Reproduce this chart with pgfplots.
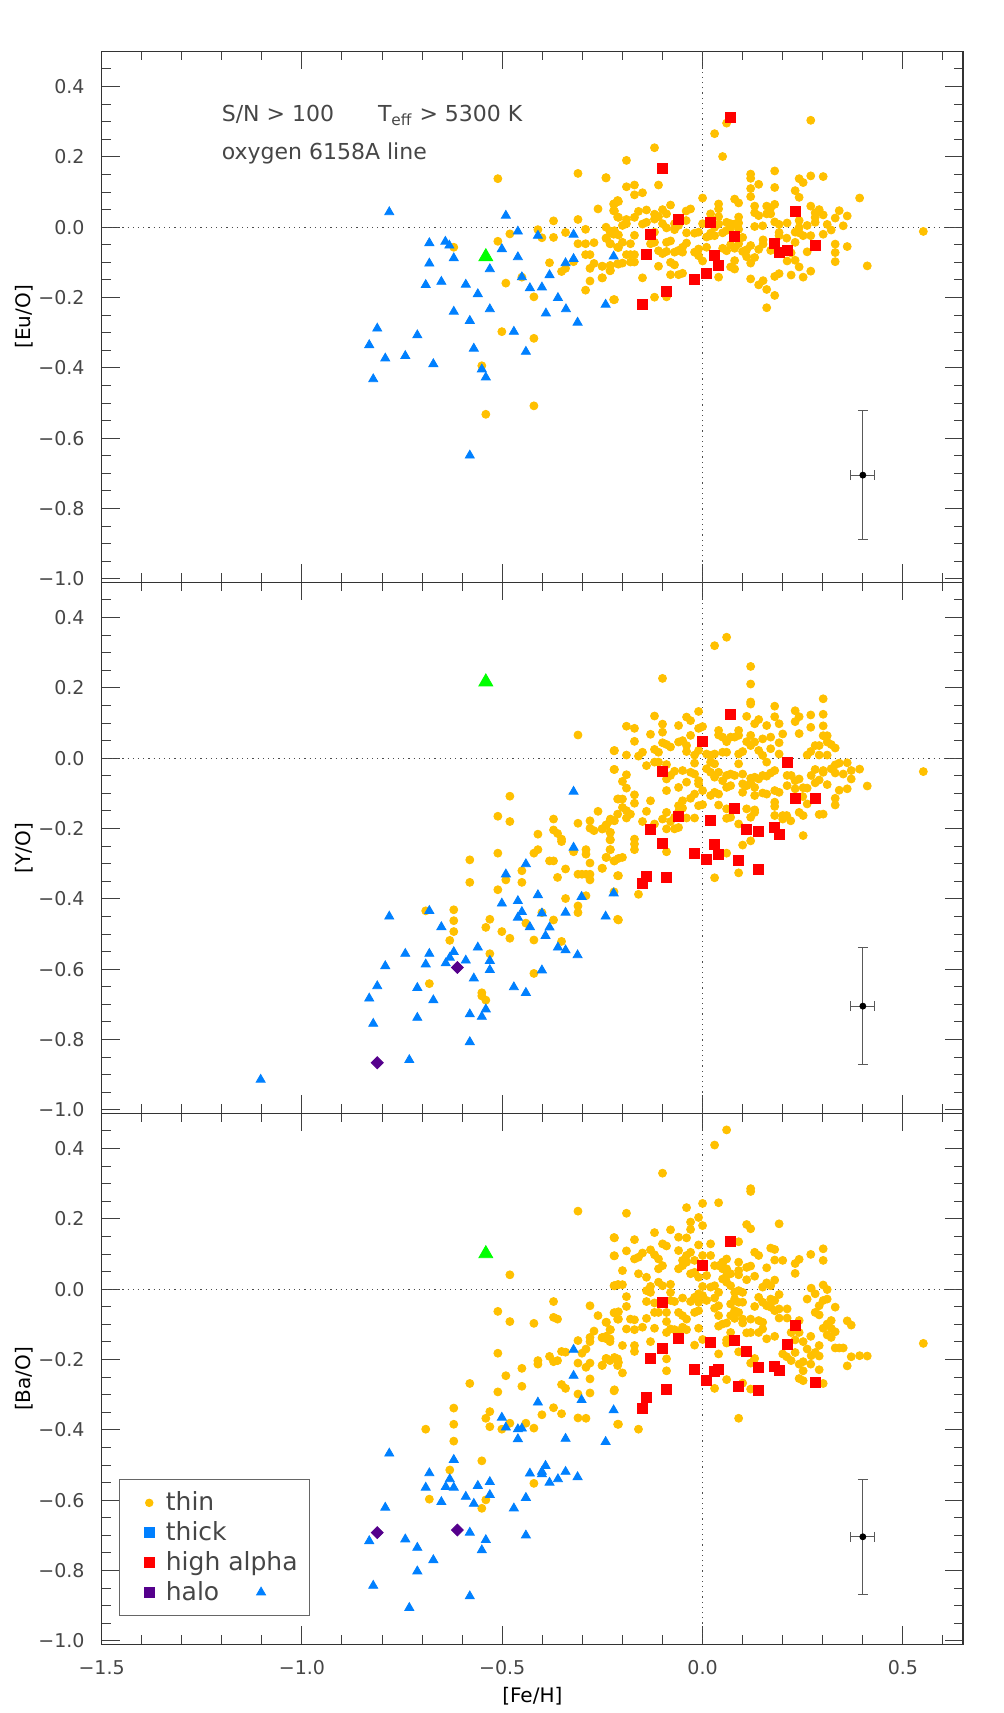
\documentclass[border=0pt]{standalone}
\usepackage{fontspec}
\setmainfont{DejaVu Sans}
\usepackage{pgfplots}
\pgfplotsset{compat=1.18}
\definecolor{thinc}{RGB}{255,192,0}
\definecolor{thickc}{RGB}{0,128,255}
\definecolor{hac}{RGB}{255,0,0}
\definecolor{haloc}{RGB}{85,0,140}
\definecolor{grc}{RGB}{0,255,0}
\definecolor{txt}{RGB}{70,70,70}
\pgfplotsset{
  panel/.style={
    scale only axis, width=430.7pt, height=265.5pt,
    xmin=-1.5, xmax=0.65, ymin=-1.01, ymax=0.5,
    xtick={-1.5,-1,-0.5,0,0.5},
    minor xtick={-1.4,-1.3,-1.2,-1.1,-0.9,-0.8,-0.7,-0.6,-0.4,-0.3,-0.2,-0.1,0.1,0.2,0.3,0.4,0.6},
    ytick={-1,-0.8,-0.6,-0.4,-0.2,0,0.2,0.4},
    minor ytick={-0.95,-0.9,-0.85,-0.75,-0.7,-0.65,-0.55,-0.5,-0.45,-0.35,-0.3,-0.25,-0.15,-0.1,-0.05,0.05,0.1,0.15,0.25,0.3,0.35,0.45},
    yticklabels={−1.0,−0.8,−0.6,−0.4,−0.2,0.0,0.2,0.4},
    xticklabels={},
    tick align=inside, tick pos=both,
    major tick length=9pt, minor tick length=4.5pt,
    every tick/.style={black!75, line width=0.5pt},
    axis line style={black!80, line width=0.6pt},
    tick label style={font=\fontsize{9.5}{11}\selectfont, text=txt},
    yticklabel shift=5pt,
    label style={font=\fontsize{11}{13}\selectfont, text=txt},
    every axis y label/.style={at={(axis description cs:-0.09,0.5)}, rotate=90, anchor=center},
    clip=false,
  },
  thin/.style={only marks, mark=*, mark size=2pt, color=thinc},
  thick/.style={only marks, mark=triangle*, mark size=2.6pt, color=thickc},
  ha/.style={only marks, mark=square*, mark size=2.5pt, color=hac},
  halo/.style={only marks, mark=square*, mark size=2.1pt, color=haloc, mark options={rotate=45}},
  grn/.style={only marks, mark=triangle*, mark size=4pt, color=grc},
  zl/.style={dotted, black!70, line width=0.6pt},
  eb/.style={only marks, mark=*, mark size=1.5pt, color=black,
    error bars/x dir=both, error bars/x explicit, error bars/y dir=both, error bars/y explicit,
    error bars/error bar style={black!65, line width=0.6pt},
    error bars/error mark options={rotate=90, mark size=2.5pt, black!65, line width=0.6pt}},
}
\begin{document}
\begin{tikzpicture}
\useasboundingbox (0,0) rectangle (501.5pt,856.5pt);
% ================= TOP =================
\begin{axis}[panel, at={(50.8pt,565.3pt)}, anchor=south west, ylabel={[Eu/O]}]
\addplot[zl] coordinates {(-1.5,0) (0.65,0)};
\addplot[zl] coordinates {(0,-1.01) (0,0.5)};
\addplot[thin] coordinates {
(-0.511,0.138) (-0.311,0.153) (-0.241,0.141) (-0.261,0.052) (-0.311,0.022) (-0.372,0.018) (-0.411,-0.007) (-0.401,-0.030) (-0.372,-0.029) (-0.342,-0.015) (-0.481,-0.019) (-0.511,-0.040) (-0.621,-0.057) (-0.292,-0.006) (-0.311,-0.047) (-0.292,-0.047) (-0.271,-0.044) (-0.241,0.000) (-0.222,0.066) (-0.212,0.076) (-0.222,0.047) (-0.212,0.029) (-0.231,-0.011) (-0.222,-0.020) (-0.241,-0.031) (-0.231,-0.047) (-0.212,-0.057) (-0.292,-0.078) (-0.281,-0.078) (-0.322,-0.098) (-0.382,-0.101) (-0.342,-0.117) (-0.352,-0.126) (-0.271,-0.103) (-0.281,-0.117) (-0.251,-0.111) (-0.231,-0.109) (-0.231,-0.124) (-0.212,-0.104) (-0.281,-0.153) (-0.251,-0.144) (-0.292,-0.179) (-0.222,-0.206) (-0.451,-0.142) (-0.491,-0.159) (-0.421,-0.198) (-0.501,-0.297) (-0.421,-0.316) (-0.551,-0.394) (-0.421,-0.508) (-0.541,-0.532)
(0.060,0.296) (0.030,0.266) (0.050,0.201) (0.270,0.304) (-0.120,0.226) (-0.190,0.190) (-0.241,0.140) (-0.110,0.120) (-0.190,0.115) (-0.170,0.120) (-0.170,0.092) (-0.150,0.098) (-0.220,0.067) (-0.210,0.073) (-0.220,0.046) (-0.210,0.028) (-0.190,0.022) (-0.170,0.028) (-0.160,0.045) (-0.140,0.049) (-0.120,0.037) (-0.120,0.023) (-0.100,0.050) (-0.090,0.038) (-0.080,0.063) (-0.110,0.030) (-0.041,0.046) (-0.030,0.052) (0.000,0.083) (0.040,0.066) (0.040,0.052) (0.020,0.038) (0.040,0.030) (0.080,0.080) (0.090,0.069) (0.120,0.151) (0.120,0.139) (0.140,0.122) (0.120,0.110) (0.120,0.087) (0.180,0.160) (0.180,0.113) (0.241,0.138) (0.251,0.127) (0.231,0.104) (0.241,0.085) (0.270,0.146) (0.301,0.144) (0.392,0.083) (0.130,0.060) (0.160,0.060) (0.170,0.055) (0.180,0.065) (0.160,0.038) (0.170,0.038) (0.130,0.041) (0.140,0.033) (0.090,0.029) (0.270,0.060) (0.291,0.050) (0.281,0.041) (0.301,0.035) (0.281,0.028) (0.281,0.014) (0.341,0.047) (0.331,0.026) (0.361,0.032) (0.311,0.008) (0.351,0.004) (0.321,-0.008) (0.301,-0.020) (0.270,-0.024) (0.241,0.019) (0.241,-0.001) (0.261,0.005) (0.241,-0.016) (0.251,-0.024) (0.231,-0.014) (0.211,0.012) (0.180,0.015) (0.191,0.008) (0.150,0.004) (0.130,0.002) (0.191,-0.015) (0.191,-0.024) (0.210,-0.031) (0.231,-0.043) (0.151,-0.036) (0.151,-0.048) (0.120,-0.052) (0.140,-0.063) (0.170,-0.066) (0.110,-0.064) (0.100,-0.069) (0.110,-0.084) (0.130,-0.086) (0.120,-0.102) (0.211,-0.096) (0.231,-0.094) (0.221,-0.073) (0.241,-0.113) (0.261,-0.070) (0.331,-0.048) (0.331,-0.072) (0.361,-0.055) (0.331,-0.098) (0.411,-0.110) (0.551,-0.012) (0.270,-0.125) (0.251,-0.142) (0.221,-0.136) (0.191,-0.132) (0.180,-0.140) (0.120,-0.147) (0.151,-0.152) (0.140,-0.164) (0.160,-0.177) (0.180,-0.194) (0.160,-0.229) (0.060,0.014) (0.070,0.010) (0.080,0.009) (0.090,0.012) (0.040,0.009) (0.030,0.000) (0.020,-0.017) (0.030,-0.024) (0.010,-0.028) (0.050,-0.016) (0.060,-0.009) (0.070,-0.001) (0.090,-0.006) (0.100,-0.029) (0.090,-0.047) (0.080,-0.060) (0.070,-0.050) (0.060,-0.067) (0.050,-0.060) (0.080,-0.095) (0.070,-0.113) (0.080,-0.119) (0.040,-0.142) (-0.010,-0.062) (-0.020,-0.071) (-0.010,-0.081) (0.000,0.010) (-0.020,-0.017) (-0.010,-0.014) (-0.040,-0.016) (-0.040,-0.045) (-0.050,-0.057) (-0.050,-0.071) (-0.060,-0.066) (-0.070,-0.071) (-0.080,-0.039) (-0.090,-0.043) (-0.070,-0.007) (-0.090,-0.002) (-0.100,0.010) (-0.120,-0.014) (-0.120,-0.043) (-0.130,-0.047) (-0.110,-0.067) (-0.100,-0.075) (-0.090,-0.069) (-0.080,-0.100) (-0.070,-0.107) (-0.060,-0.135) (-0.080,-0.135) (-0.050,-0.131) (-0.110,-0.111) (-0.150,-0.144) (-0.120,-0.199) (-0.090,-0.198) (-0.220,-0.206) (-0.170,-0.023) (-0.180,-0.047) (-0.170,-0.078) (-0.180,-0.078) (-0.190,-0.078) (-0.170,-0.099) (-0.180,-0.099) (-0.200,-0.043) (-0.210,-0.022) (-0.220,-0.010) (-0.230,-0.015) (-0.240,-0.032) (-0.230,-0.047) (-0.210,-0.058) (-0.200,-0.102) (-0.210,-0.105) (-0.230,-0.109) (-0.250,-0.111) (-0.250,-0.144) (-0.230,-0.123) (-0.150,0.009) (-0.140,0.014) (-0.190,0.010) (-0.200,0.005) (-0.060,0.005) (-0.041,0.019) (-0.070,0.010) (0.000,-0.096) (0.010,-0.057) (0.020,-0.024)
};
\addplot[thick] coordinates {
(-0.782,0.043) (-0.682,-0.045) (-0.642,-0.041) (-0.632,-0.052) (-0.621,-0.088) (-0.682,-0.103) (-0.691,-0.164) (-0.652,-0.155) (-0.591,-0.163) (-0.561,-0.190) (-0.531,-0.119) (-0.531,-0.233) (-0.621,-0.240) (-0.581,-0.266) (-0.491,0.033) (-0.461,-0.012) (-0.411,-0.024) (-0.501,-0.062) (-0.461,-0.085) (-0.451,-0.142) (-0.431,-0.173) (-0.401,-0.171) (-0.382,-0.136) (-0.342,-0.102) (-0.322,-0.090) (-0.322,-0.021) (-0.361,-0.201) (-0.341,-0.233) (-0.391,-0.245) (-0.312,-0.271) (-0.242,-0.220) (-0.222,-0.083) (-0.471,-0.297) (-0.441,-0.354) (-0.571,-0.345) (-0.551,-0.404) (-0.541,-0.427) (-0.581,-0.649) (-0.812,-0.288) (-0.832,-0.335) (-0.792,-0.373) (-0.742,-0.366) (-0.712,-0.307) (-0.672,-0.389) (-0.822,-0.432)
};
\addplot[ha] coordinates {
(0.070,0.311) (-0.100,0.167) (-0.060,0.023) (-0.130,-0.020) (-0.140,-0.078) (0.020,0.013) (0.079,-0.027) (0.030,-0.079) (0.040,-0.109) (0.010,-0.130) (-0.020,-0.147) (-0.090,-0.182) (-0.150,-0.219) (0.180,-0.046) (0.191,-0.071) (0.211,-0.066) (0.231,0.046) (0.281,-0.053)
};
\addplot[grn] coordinates {(-0.541,-0.084)};
\addplot[eb] coordinates {(0.4,-0.705) +- (0.03,0.183)};
\node[anchor=base west, inner sep=0pt, font=\fontsize{11}{13}\selectfont, text=txt] at (axis cs:-1.201,0.300) {S/N > 100\hspace{22pt}T\textsubscript{eff} > 5300 K};
\node[anchor=base west, inner sep=0pt, font=\fontsize{11}{13}\selectfont, text=txt] at (axis cs:-1.201,0.193) {oxygen 6158A line};
\end{axis}
% ================= MIDDLE =================
\begin{axis}[panel, at={(50.8pt,299.8pt)}, anchor=south west, ylabel={[Y/O]}]
\addplot[zl] coordinates {(-1.5,0) (0.65,0)};
\addplot[zl] coordinates {(0,-1.01) (0,0.5)};
\addplot[thin] coordinates {
(-0.311,0.066) (-0.221,0.021) (-0.221,-0.032) (-0.212,-0.116) (-0.212,-0.159) (-0.261,-0.151) (-0.281,-0.178) (-0.281,-0.199) (-0.271,-0.206) (-0.251,-0.201) (-0.241,-0.190) (-0.231,-0.178) (-0.231,-0.211) (-0.231,-0.232) (-0.231,-0.260) (-0.241,-0.282) (-0.221,-0.292) (-0.251,-0.313) (-0.212,-0.334) (-0.221,-0.380) (-0.212,-0.458) (-0.311,-0.185) (-0.372,-0.173) (-0.372,-0.204) (-0.362,-0.214) (-0.352,-0.230) (-0.352,-0.237) (-0.411,-0.216) (-0.411,-0.260) (-0.421,-0.270) (-0.382,-0.292) (-0.372,-0.292) (-0.342,-0.315) (-0.362,-0.339) (-0.291,-0.260) (-0.291,-0.273) (-0.322,-0.266) (-0.281,-0.298) (-0.311,-0.330) (-0.301,-0.330) (-0.291,-0.330) (-0.281,-0.330) (-0.281,-0.346) (-0.291,-0.391) (-0.342,-0.399) (-0.311,-0.420) (-0.311,-0.439) (-0.372,-0.460) (-0.481,-0.108) (-0.511,-0.165) (-0.481,-0.180) (-0.511,-0.270) (-0.581,-0.289) (-0.581,-0.353) (-0.451,-0.320) (-0.491,-0.346) (-0.451,-0.353) (-0.511,-0.374) (-0.691,-0.434) (-0.621,-0.431) (-0.621,-0.462) (-0.621,-0.493) (-0.631,-0.518) (-0.531,-0.458) (-0.541,-0.481) (-0.501,-0.493) (-0.481,-0.512) (-0.441,-0.469) (-0.421,-0.517) (-0.401,-0.439) (-0.352,-0.521) (-0.531,-0.556) (-0.682,-0.641) (-0.551,-0.667) (-0.551,-0.676) (-0.541,-0.688) (-0.421,-0.612)
(0.060,0.344) (0.030,0.320) (-0.100,0.227) (0.120,0.261) (0.120,0.211) (0.120,0.160) (0.120,0.154) (0.301,0.169) (0.180,0.148) (0.231,0.135) (0.241,0.118) (0.231,0.104) (0.270,0.123) (0.301,0.125) (0.270,0.088) (0.301,0.092) (0.241,0.070) (0.301,0.064) (0.311,0.064) (0.311,0.046) (0.321,0.039) (0.331,0.029) (0.281,0.036) (0.291,0.036) (0.270,0.019) (0.261,0.009) (0.291,0.009) (0.311,0.009) (0.361,-0.013) (0.331,-0.019) (0.341,-0.014) (0.321,-0.030) (0.301,-0.035) (0.281,-0.032) (0.301,-0.040) (0.331,-0.042) (0.351,-0.045) (0.371,-0.035) (0.392,-0.031) (0.371,-0.059) (0.411,-0.079) (0.551,-0.038) (0.361,-0.087) (0.341,-0.091) (0.311,-0.075) (0.291,-0.062) (0.281,-0.070) (0.271,-0.049) (0.261,-0.085) (0.251,-0.084) (0.241,-0.059) (0.231,-0.064) (0.231,-0.087) (0.221,-0.049) (0.211,-0.049) (0.211,-0.078) (0.191,-0.097) (0.180,-0.092) (0.180,-0.035) (0.170,-0.042) (0.160,-0.051) (0.150,-0.049) (0.140,-0.059) (0.130,-0.054) (0.120,-0.057) (0.120,-0.070) (0.110,-0.078) (0.100,-0.073) (0.130,-0.083) (0.150,-0.099) (0.160,-0.102) (0.130,-0.106) (0.331,-0.114) (0.331,-0.133) (0.250,-0.109) (0.261,-0.130) (0.241,-0.154) (0.251,-0.163) (0.291,-0.160) (0.301,-0.159) (0.200,-0.163) (0.210,-0.163) (0.220,-0.178) (0.200,-0.173) (0.180,-0.163) (0.251,-0.220) (0.180,-0.125) (0.180,-0.137) (0.130,-0.147) (0.130,-0.154) (0.110,-0.144) (0.120,-0.168) (0.090,-0.187) (0.060,-0.144) (0.060,-0.171) (0.070,-0.168) (0.100,-0.247) (0.120,-0.235) (0.060,-0.270) (0.090,-0.326) (0.030,-0.340) (0.040,-0.133) (0.000,-0.132) (-0.010,-0.135) (-0.020,-0.170) (-0.040,-0.170) (-0.030,-0.114) (-0.050,-0.121) (-0.050,-0.142) (-0.060,-0.135) (-0.020,-0.102) (0.000,-0.092) (0.020,-0.106) (0.030,-0.097) (0.040,-0.102) (-0.060,-0.152) (-0.070,-0.168) (-0.070,-0.201) (-0.060,-0.197) (-0.090,-0.201) (-0.080,-0.180) (-0.100,-0.173) (-0.090,-0.154) (-0.120,-0.187) (-0.150,-0.180) (-0.090,-0.266) (-0.130,-0.121) (-0.140,-0.151) (-0.170,-0.128) (-0.170,-0.104) (-0.190,-0.085) (-0.200,-0.066) (-0.190,-0.047) (-0.220,-0.032) (-0.220,0.022) (-0.190,0.009) (-0.170,0.048) (-0.190,0.091) (-0.170,0.085) (-0.150,0.017) (-0.160,0.006) (-0.130,0.068) (-0.120,0.120) (-0.100,0.097) (-0.100,0.074) (-0.100,0.044) (-0.090,0.039) (-0.080,0.032) (-0.110,0.017) (-0.120,0.025) (-0.120,-0.011) (-0.140,-0.021) (-0.110,-0.011) (-0.090,-0.018) (-0.090,-0.059) (-0.080,-0.049) (-0.090,-0.092) (-0.070,-0.037) (-0.050,-0.035) (-0.030,-0.040) (-0.020,-0.045) (-0.010,-0.064) (-0.010,-0.073) (-0.040,-0.068) (-0.060,-0.083) (-0.060,0.046) (-0.050,0.050) (-0.060,0.093) (-0.040,0.117) (-0.030,0.107) (-0.030,0.065) (-0.010,0.133) (-0.010,0.085) (0.000,0.090) (-0.040,0.036) (-0.040,0.019) (-0.020,0.009) (-0.010,0.022) (-0.020,-0.014) (0.010,0.012) (0.020,0.008) (0.030,0.012) (0.020,-0.011) (0.030,-0.016) (0.010,-0.030) (0.020,-0.040) (0.040,-0.040) (0.030,-0.054) (0.050,-0.064) (0.060,-0.049) (0.070,-0.045) (0.080,-0.049) (0.100,-0.045) (0.060,-0.083) (0.070,-0.078) (0.100,-0.097) (0.040,0.079) (0.040,0.066) (0.050,0.060) (0.060,0.047) (0.070,0.060) (0.080,0.060) (0.090,0.079) (0.090,0.065) (0.110,0.119) (0.130,0.098) (0.140,0.110) (0.160,0.093) (0.180,0.118) (0.191,0.098) (0.200,0.069) (0.170,0.060) (0.150,0.055) (0.120,0.065) (0.110,0.047) (0.120,0.036) (0.130,0.046) (0.140,0.022) (0.170,0.027) (0.191,0.044) (0.191,0.012) (0.150,0.008) (0.160,-0.011) (0.100,0.019) (0.090,0.012) (0.090,-0.016) (0.060,0.017) (0.050,0.017)
(-0.250,-0.201) (-0.240,-0.190) (-0.230,-0.211) (-0.230,-0.232) (-0.230,-0.260) (-0.240,-0.282) (-0.250,-0.313) (-0.220,-0.292) (-0.210,-0.285) (-0.200,-0.282) (-0.210,-0.334) (-0.170,-0.230) (-0.170,-0.244) (-0.170,-0.260) (-0.190,-0.170) (-0.180,-0.159) (-0.210,-0.116) (-0.200,-0.116) (-0.220,-0.178) (-0.230,-0.173) (-0.160,-0.387) (-0.210,-0.460) (-0.200,-0.140) (-0.190,-0.149)
};
\addplot[thick] coordinates {
(-1.103,-0.914) (-0.782,-0.450) (-0.682,-0.434) (-0.652,-0.480) (-0.742,-0.556) (-0.682,-0.556) (-0.691,-0.586) (-0.792,-0.591) (-0.812,-0.648) (-0.832,-0.683) (-0.822,-0.755) (-0.712,-0.653) (-0.672,-0.688) (-0.712,-0.738) (-0.732,-0.858) (-0.621,-0.551) (-0.631,-0.567) (-0.641,-0.583) (-0.591,-0.575) (-0.561,-0.538) (-0.531,-0.576) (-0.531,-0.602) (-0.571,-0.626) (-0.581,-0.728) (-0.551,-0.735) (-0.541,-0.714) (-0.581,-0.807) (-0.471,-0.651) (-0.441,-0.667) (-0.401,-0.603) (-0.491,-0.330) (-0.441,-0.301) (-0.501,-0.413) (-0.461,-0.406) (-0.451,-0.437) (-0.461,-0.453) (-0.431,-0.480) (-0.411,-0.389) (-0.401,-0.441) (-0.382,-0.481) (-0.392,-0.505) (-0.361,-0.538) (-0.342,-0.546) (-0.312,-0.560) (-0.342,-0.439) (-0.302,-0.394) (-0.322,-0.095) (-0.322,-0.254) (-0.242,-0.450) (-0.222,-0.384)
};
\addplot[ha] coordinates {
(0.070,0.125) (0.000,0.049) (-0.100,-0.037) (0.211,-0.011) (0.231,-0.114) (0.281,-0.114) (0.080,-0.144) (-0.060,-0.165) (0.020,-0.178) (-0.130,-0.203) (-0.100,-0.241) (0.110,-0.201) (0.140,-0.208) (0.180,-0.198) (0.191,-0.216) (0.030,-0.246) (0.040,-0.273) (-0.020,-0.270) (0.010,-0.287) (0.090,-0.290) (0.140,-0.317) (-0.140,-0.336) (-0.150,-0.355) (-0.090,-0.338)
};
\addplot[halo] coordinates {(-0.612,-0.595) (-0.812,-0.866)};
\addplot[grn] coordinates {(-0.541,0.217)};
\addplot[eb] coordinates {(0.4,-0.705) +- (0.03,0.167)};
\end{axis}
% ================= BOTTOM =================
\begin{axis}[panel, at={(50.8pt,34.3pt)}, anchor=south west, ylabel={[Ba/O]}, xlabel={[Fe/H]},
  xticklabels={−1.5,−1.0,−0.5,0.0,0.5}, xticklabel shift=4.5pt,
  every axis x label/.style={at={(axis description cs:0.5,-0.097)}, anchor=center},
  legend image code/.code={\path[draw=none, fill=none] (0pt,0pt) -- (17pt,0pt); \draw[#1] plot coordinates {(10.7pt,0pt)};},
  legend style={at={(0.0205,0.311)}, anchor=north west, draw=black!60, line width=0.6pt, fill=none,
    font=\fontsize{12.5}{14}\selectfont, text=txt, row sep=0pt, inner xsep=4pt, inner ysep=4pt},
  legend cell align=left]
\addlegendimage{only marks, mark=*, mark size=1.8pt, thinc}
\addlegendentry{thin}
\addlegendimage{only marks, mark=square*, mark size=2.5pt, thickc}
\addlegendentry{thick}
\addlegendimage{only marks, mark=square*, mark size=2.5pt, hac}
\addlegendentry{high alpha}
\addlegendimage{only marks, mark=square*, mark size=2.5pt, haloc}
\addlegendentry{halo}
\addplot[forget plot, zl] coordinates {(-1.5,0) (0.65,0)};
\addplot[forget plot, zl] coordinates {(0,-1.01) (0,0.5)};
\addplot[forget plot, thin] coordinates {
(-0.311,0.222) (-0.221,0.147) (-0.221,0.095) (-0.221,0.010) (-0.212,0.013) (-0.481,0.041) (-0.511,-0.063) (-0.481,-0.092) (-0.421,-0.097) (-0.372,-0.035) (-0.372,-0.080) (-0.362,-0.085) (-0.281,-0.047) (-0.261,-0.075) (-0.241,-0.094) (-0.231,-0.115) (-0.221,-0.067) (-0.212,-0.085) (-0.271,-0.119) (-0.281,-0.137) (-0.281,-0.149) (-0.251,-0.138) (-0.241,-0.134) (-0.231,-0.141) (-0.231,-0.149) (-0.311,-0.146) (-0.291,-0.170) (-0.301,-0.182) (-0.352,-0.177) (-0.342,-0.179) (-0.382,-0.191) (-0.372,-0.206) (-0.362,-0.203) (-0.411,-0.203) (-0.411,-0.213) (-0.311,-0.210) (-0.281,-0.210) (-0.291,-0.222) (-0.241,-0.197) (-0.231,-0.203) (-0.212,-0.198) (-0.251,-0.217) (-0.212,-0.217) (-0.511,-0.182) (-0.451,-0.225) (-0.491,-0.246) (-0.451,-0.276) (-0.511,-0.292) (-0.581,-0.268) (-0.352,-0.271) (-0.342,-0.282) (-0.281,-0.255) (-0.311,-0.298) (-0.281,-0.295) (-0.221,-0.289) (-0.372,-0.337) (-0.352,-0.354) (-0.401,-0.357) (-0.311,-0.366) (-0.291,-0.367) (-0.212,-0.384) (-0.621,-0.338) (-0.621,-0.384) (-0.621,-0.432) (-0.691,-0.398) (-0.531,-0.348) (-0.541,-0.367) (-0.531,-0.391) (-0.501,-0.398) (-0.481,-0.381) (-0.441,-0.381) (-0.421,-0.395) (-0.551,-0.488) (-0.631,-0.514) (-0.682,-0.597) (-0.541,-0.599) (-0.551,-0.623) (-0.421,-0.552)
(0.060,0.453) (0.030,0.410) (-0.100,0.330) (0.120,0.286) (0.120,0.278) (0.040,0.246) (0.000,0.244) (-0.040,0.232) (-0.190,0.216) (-0.010,0.204) (-0.030,0.191) (0.000,0.181) (-0.030,0.170) (-0.080,0.169) (-0.120,0.161) (-0.060,0.148) (-0.040,0.146) (-0.220,0.146) (-0.170,0.141) (0.020,0.129) (-0.010,0.126) (-0.100,0.129) (-0.090,0.123) (0.090,0.135) (0.110,0.184) (0.120,0.172) (0.191,0.186) (0.301,0.115) (0.301,0.082) (0.270,0.099) (0.170,0.117) (0.180,0.113) (0.130,0.105) (0.140,0.096) (0.180,0.083) (0.200,0.082) (0.241,0.085) (0.231,0.073) (0.231,0.045) (0.160,0.061) (0.130,0.037) (0.110,0.062) (0.120,0.066) (0.090,0.053) (0.090,0.041) (0.110,0.027) (0.180,0.026) (0.160,0.018) (0.150,0.006) (0.170,0.010) (0.191,-0.015) (0.170,-0.028) (0.180,-0.032) (0.150,-0.037) (0.140,-0.023) (0.130,-0.049) (0.160,-0.047) (0.170,-0.051) (0.180,-0.061) (0.191,-0.056) (0.211,-0.056) (0.191,-0.082) (0.211,-0.082) (0.241,-0.089) (0.241,-0.123) (0.221,-0.123) (0.231,-0.144) (0.251,-0.149) (0.261,-0.170) (0.281,-0.180) (0.271,-0.189) (0.291,-0.160) (0.291,-0.190) (0.251,-0.206) (0.241,-0.213) (0.221,-0.203) (0.200,-0.184) (0.210,-0.192) (0.231,-0.180) (0.251,-0.232) (0.241,-0.254) (0.251,-0.260) (0.270,-0.213) (0.291,-0.229) (0.301,-0.268) (0.270,-0.134) (0.261,-0.028) (0.271,0.003) (0.281,-0.013) (0.291,-0.047) (0.281,-0.066) (0.291,-0.073) (0.301,0.012) (0.311,-0.001) (0.311,-0.028) (0.301,-0.032) (0.321,-0.089) (0.311,-0.099) (0.301,-0.111) (0.321,-0.111) (0.331,-0.121) (0.311,-0.130) (0.321,-0.137) (0.331,-0.051) (0.331,-0.167) (0.341,-0.167) (0.351,-0.167) (0.361,-0.090) (0.371,-0.102) (0.371,-0.192) (0.361,-0.218) (0.392,-0.189) (0.411,-0.190) (0.551,-0.154) (0.090,-0.367) (0.120,-0.284) (0.030,-0.282) (0.060,-0.257) (0.100,-0.267) (0.130,-0.197) (0.120,-0.210) (0.090,-0.178) (0.070,-0.123) (0.060,-0.144) (0.060,-0.153) (0.110,-0.124) (0.120,-0.123) (0.140,-0.123) (0.150,-0.113) (0.160,-0.141) (0.180,-0.134) (0.150,-0.094) (0.140,-0.089) (0.120,-0.085) (0.100,-0.085) (0.100,-0.096) (0.090,-0.066) (0.080,-0.083) (0.070,-0.075) (0.060,-0.096) (0.080,-0.061) (0.070,-0.042) (0.080,-0.028) (0.090,-0.037) (0.100,-0.037) (0.080,-0.009) (0.090,-0.004) (0.100,-0.009) (0.070,0.010) (0.060,0.020) (0.050,0.029) (0.060,0.039) (0.070,0.044) (0.050,0.058) (0.040,0.067) (0.060,0.058) (0.050,0.077) (0.030,0.010) (0.020,0.006) (0.040,-0.009) (0.030,-0.025) (0.040,-0.047) (0.030,-0.054) (0.040,-0.075) (0.040,-0.105) (0.050,-0.099) (0.040,-0.184) (0.000,0.008) (0.010,0.039) (-0.010,0.034) (-0.020,0.048) (-0.030,0.044) (0.000,-0.018) (-0.010,-0.013) (-0.020,-0.023) (-0.010,-0.037) (0.010,-0.032) (-0.020,-0.066) (-0.010,-0.061) (0.000,-0.143) (-0.020,-0.159) (-0.010,-0.111) (-0.040,-0.085) (-0.050,-0.025) (-0.030,-0.035) (-0.050,-0.108) (-0.040,-0.115) (-0.060,-0.123) (-0.070,-0.115) (-0.080,-0.113) (-0.090,-0.123) (-0.090,-0.092) (-0.060,-0.066) (-0.050,-0.075) (-0.070,-0.035) (-0.080,-0.032) (-0.090,-0.066) (-0.080,-0.009) (-0.080,0.014) (-0.100,0.010) (-0.110,0.020) (-0.130,0.008) (-0.140,-0.004) (-0.130,-0.009) (-0.120,-0.039) (-0.110,-0.066) (-0.120,-0.066) (-0.140,-0.083) (-0.150,-0.108) (-0.120,-0.111) (-0.090,-0.198) (-0.090,-0.232) (-0.130,-0.149) (-0.170,-0.160) (-0.170,-0.177) (-0.200,-0.160) (-0.220,-0.194) (-0.240,-0.197) (-0.250,-0.216) (-0.210,-0.208) (-0.200,-0.238) (-0.220,-0.286) (-0.210,-0.384) (-0.160,-0.398) (-0.230,-0.115) (-0.240,-0.094) (-0.220,-0.067) (-0.210,-0.064) (-0.180,-0.085) (-0.170,-0.087) (-0.190,-0.113) (-0.170,-0.115) (-0.210,-0.085) (-0.240,-0.141) (-0.250,-0.137) (-0.220,0.010) (-0.210,0.013) (-0.200,0.013) (-0.220,0.095) (-0.190,0.109) (-0.170,0.086) (-0.150,0.103) (-0.160,0.091) (-0.130,0.112) (-0.120,0.098) (-0.110,0.086) (-0.100,0.067) (-0.110,0.058) (-0.140,0.034) (-0.160,0.044) (-0.200,0.053) (-0.190,-0.021) (-0.190,-0.049) (-0.140,-0.035) (-0.060,0.058) (-0.050,0.067) (-0.040,0.077) (-0.050,0.082) (-0.060,0.110) (-0.040,0.096) (-0.020,0.082) (-0.030,0.105) (0.000,0.096) (0.020,0.096) (0.030,0.067) (0.050,0.075) (0.060,0.086) (0.090,0.077)
};
\addplot[forget plot, thick] coordinates {
(-1.102,-0.862) (-0.782,-0.467) (-0.832,-0.716) (-0.792,-0.621) (-0.822,-0.843) (-0.742,-0.711) (-0.712,-0.735) (-0.672,-0.770) (-0.712,-0.802) (-0.732,-0.906) (-0.682,-0.523) (-0.691,-0.564) (-0.641,-0.562) (-0.631,-0.540) (-0.621,-0.564) (-0.621,-0.485) (-0.652,-0.605) (-0.591,-0.590) (-0.571,-0.610) (-0.561,-0.559) (-0.531,-0.548) (-0.531,-0.585) (-0.581,-0.692) (-0.541,-0.713) (-0.551,-0.742) (-0.581,-0.873) (-0.441,-0.593) (-0.441,-0.700) (-0.471,-0.623) (-0.431,-0.524) (-0.401,-0.519) (-0.392,-0.502) (-0.401,-0.526) (-0.382,-0.550) (-0.361,-0.540) (-0.342,-0.519) (-0.312,-0.534) (-0.501,-0.365) (-0.491,-0.393) (-0.461,-0.398) (-0.451,-0.396) (-0.461,-0.426) (-0.411,-0.322) (-0.342,-0.425) (-0.322,-0.172) (-0.322,-0.246) (-0.302,-0.315) (-0.242,-0.434) (-0.222,-0.344)
};
\addplot[forget plot, ha] coordinates {
(0.070,0.136) (0.000,0.067) (-0.100,-0.037) (0.231,-0.104) (0.211,-0.158) (-0.060,-0.140) (0.020,-0.152) (0.080,-0.145) (0.110,-0.178) (-0.100,-0.167) (-0.130,-0.198) (-0.020,-0.227) (0.030,-0.234) (0.040,-0.227) (0.010,-0.260) (0.140,-0.222) (0.180,-0.220) (0.191,-0.230) (0.090,-0.275) (0.140,-0.289) (0.281,-0.266) (-0.090,-0.286) (-0.140,-0.309) (-0.150,-0.339)
};
\addplot[forget plot, halo] coordinates {(-0.812,-0.692) (-0.612,-0.685)};
\addplot[forget plot, grn] coordinates {(-0.541,0.101)};
\addplot[forget plot, eb] coordinates {(0.4,-0.704) +- (0.03,0.163)};
\end{axis}
\end{tikzpicture}
\end{document}
